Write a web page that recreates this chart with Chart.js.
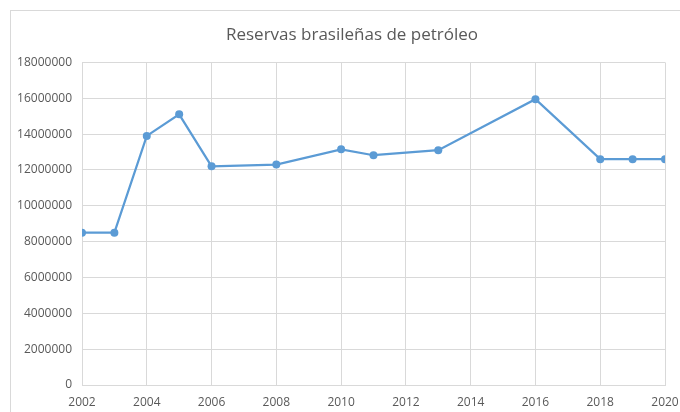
<!DOCTYPE html>
<html>
<head>
<meta charset="utf-8">
<script src="https://cdn.jsdelivr.net/npm/chart.js@4"></script>
<style>
  html, body { margin: 0; padding: 0; background: #fff; }
  #wrap { position: relative; width: 680px; height: 412px; overflow: hidden; }
  #frame { position: absolute; left: 10px; top: 10px; width: 700px; height: 440px; border: 1px solid #d9d9d9; box-sizing: border-box; }
  canvas { position: absolute; left: 0; top: 0; }
</style>
</head>
<body>
<div id="wrap">
  <div id="frame"></div>
  <canvas id="reservas" width="680" height="412"></canvas>
</div>
<script>
const years = [2002, 2003, 2004, 2005, 2006, 2008, 2010, 2011, 2013, 2016, 2018, 2019, 2020];
const reserves = [8500000, 8500000, 13900000, 15100000, 12200000, 12300000, 13150000, 12820000, 13100000, 15950000, 12600000, 12600000, 12600000];
const chartTitle = "Reservas brasileñas de petróleo";

const points = years.map((y, i) => ({ x: y, y: reserves[i] }));
const textColor = "#595959";
const gridColor = "#d9d9d9";
const font = "'Open Sans', 'Liberation Sans', sans-serif";

// the title sits a bit right of the canvas centre in the original
const shiftTitle = {
  id: "shiftTitle",
  afterLayout(chart) {
    if (chart.titleBlock) chart.titleBlock.left += 24;
  },
};

const ctx = document.getElementById("reservas").getContext("2d");

new Chart(ctx, {
  type: "line",
  data: {
    datasets: [
      {
        label: "Reservas",
        data: points,
        borderColor: "#5b9bd5",
        backgroundColor: "#5b9bd5",
        borderWidth: 2.25,
        pointRadius: 4,
        pointBorderWidth: 0,
        tension: 0,
      },
    ],
  },
  plugins: [shiftTitle],
  options: {
    responsive: false,
    animation: false,
    layout: { padding: 0 },
    plugins: {
      legend: { display: false },
      tooltip: { enabled: false },
      title: {
        display: true,
        text: chartTitle,
        color: textColor,
        font: { family: font, size: 17, weight: "normal", lineHeight: 1.2 },
        padding: { top: 25, bottom: 17 },
      },
    },
    scales: {
      x: {
        type: "linear",
        min: 2002,
        max: 2020,
        grid: { color: gridColor, drawTicks: false },
        border: { color: gridColor },
        ticks: {
          stepSize: 2,
          color: textColor,
          padding: 10,
          font: { family: font, size: 12 },
          callback: (v) => String(v),
        },
        afterFit: (scale) => {
          scale.height = 27;
          scale.paddingLeft = 0;
          scale.paddingRight = 15;
        },
      },
      y: {
        min: 0,
        max: 18000000,
        grid: { color: gridColor, drawTicks: false },
        border: { color: gridColor },
        ticks: {
          stepSize: 2000000,
          color: textColor,
          padding: 10,
          font: { family: font, size: 12 },
          callback: (v) => String(v),
        },
        afterFit: (scale) => {
          scale.width = 82;
          scale.paddingTop = 0;
          scale.paddingBottom = 0;
        },
      },
    },
  },
});
</script>
</body>
</html>
